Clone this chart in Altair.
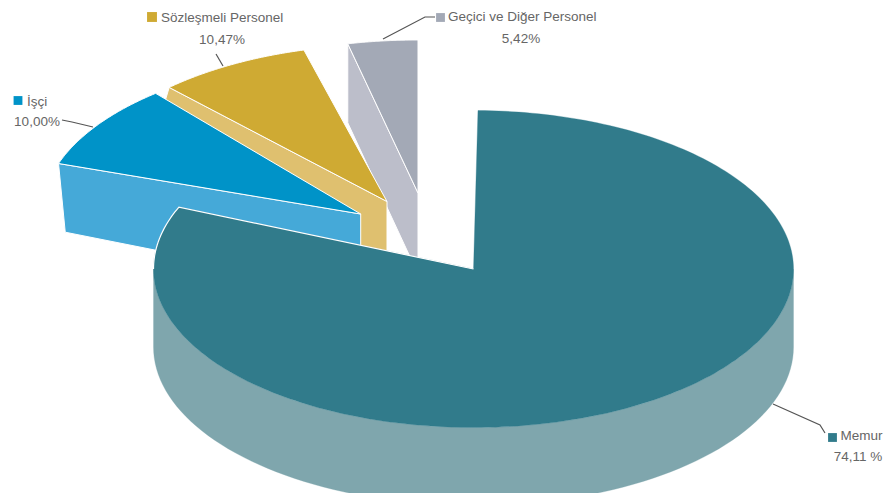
import math
import altair as alt

# ---- data ----
names = ["Memur", "İşçi", "Sözleşmeli Personel", "Geçici ve Diğer Personel"]
shares = ["74,11 %", "10,00%", "10,47%", "5,42%"]
top_colors = ["#317b8b", "#0093c8", "#cfaa33", "#a3a9b6"]
wall_colors = ["#7fa6ad", "#45a9d8", "#dfc06f", "#bcbeca"]

# 3-D slice geometry (apex, radii, start/end ellipse angle, wall drops)
apex = [(473.5, 269), (360.7, 214), (387, 201.5), (418, 193)]
radii = [(320, 158.5), (319, 157.5), (317, 157), (317, 153)]
angles = [(0.8, 293), (288.7, 320), (316.6, 344.8), (347.2, 360)]
outer_drop = [(0, 78), (6.7, 68.7), (-21, 70), (0, 79)]
apex_drop = [78, 77, 76, 81]

legend_pos = [(832.5, 437.5), (18, 100.5), (152, 17), (440.5, 17.5)]
legend_size = [78, 78, 98, 78]
name_pos = [(840.5, 436), (27, 102), (161, 18), (448, 17)]
share_pos = [(858, 457), (37, 122), (222, 40), (521, 39)]
leaders = [
    [(773, 404), (820, 425), (825, 433)],
    [(62, 120), (72, 122), (93, 127)],
    [(216, 54), (223, 66)],
    [(435, 17), (425, 17), (383, 39)],
]

FONT = "Liberation Sans"
FONT_SIZE = 13.5
TEXT = "#666666"
PROJ = dict(type="identity", reflectY=True, scale=1, translate=[0, 0])


def P(x, y):
    return [x - 8, -(y - 8)]


def arc(i, a0, a1, dx=0, dy=0, n=90):
    cx, cy = apex[i]
    rx, ry = radii[i]
    pts = []
    for k in range(n + 1):
        t = math.radians(a0 + (a1 - a0) * k / n)
        pts.append((cx + dx + rx * math.sin(t), cy + dy - ry * math.cos(t)))
    return pts


def poly(points, fill, stroke=None, width=1):
    ring = [P(*p) for p in points]
    ring.append(ring[0])
    feat = {"type": "Feature", "properties": {},
            "geometry": {"type": "Polygon", "coordinates": [ring]}}
    kw = {"fill": fill, "strokeWidth": width}
    kw["stroke"] = stroke if stroke else fill
    if not stroke:
        kw["strokeWidth"] = 0.3
    return alt.Chart(alt.Data(values=[feat])).mark_geoshape(**kw).project(**PROJ)


def line(points, color, width=1):
    feat = {"type": "Feature", "properties": {},
            "geometry": {"type": "LineString", "coordinates": [P(*p) for p in points]}}
    return alt.Chart(alt.Data(values=[feat])).mark_geoshape(
        filled=False, fill="transparent", stroke=color, strokeWidth=width
    ).project(**PROJ)


layers = []

# back slices: wall first, then the top face, painted back to front
for i in [3, 2, 1]:
    a0, a1 = angles[i]
    ax, ay = apex[i]
    start = arc(i, a0, a0, n=1)[0]
    wall = [start, (ax, ay), (ax, ay + apex_drop[i]),
            (start[0] + outer_drop[i][0], start[1] + outer_drop[i][1])]
    layers.append(poly(wall, wall_colors[i], "white", 1))
    layers.append(poly(arc(i, a0, a1) + [(ax, ay)], top_colors[i], "white", 1))

# front slice
ax, ay = apex[0]
dx, dy = outer_drop[0]
wall_pts = arc(0, 90, 270, dx, dy) + arc(0, 270, 90)
layers.append(poly(wall_pts, wall_colors[0]))
a0, a1 = angles[0]
layers.append(poly(arc(0, a0, a1, n=240) + [(ax, ay)], top_colors[0]))
end_edge = [(ax, ay)] + arc(0, a1, 270, n=24)
layers.append(line(end_edge, "white", 1.2))

# leaders
for pts in leaders:
    layers.append(line(pts, "#555555", 1.2))

# legend squares and labels
for i in range(4):
    sq = alt.Chart(alt.Data(values=[{"lon": P(*legend_pos[i])[0], "lat": P(*legend_pos[i])[1]}]))
    layers.append(sq.mark_square(size=legend_size[i], color=top_colors[i], opacity=1).encode(
        longitude="lon:Q", latitude="lat:Q").project(**PROJ))
    nm = alt.Chart(alt.Data(values=[{"lon": P(*name_pos[i])[0], "lat": P(*name_pos[i])[1], "t": names[i]}]))
    layers.append(nm.mark_text(align="left", baseline="middle", font=FONT, fontSize=FONT_SIZE, color=TEXT).encode(
        longitude="lon:Q", latitude="lat:Q", text="t:N").project(**PROJ))
    sh = alt.Chart(alt.Data(values=[{"lon": P(*share_pos[i])[0], "lat": P(*share_pos[i])[1], "t": shares[i]}]))
    layers.append(sh.mark_text(align="center", baseline="middle", font=FONT, fontSize=FONT_SIZE, color=TEXT).encode(
        longitude="lon:Q", latitude="lat:Q", text="t:N").project(**PROJ))

chart = alt.layer(*layers).properties(
    width=875, height=485, padding=0, background="white",
    autosize=alt.AutoSizeParams(type="none"),
).configure_view(stroke=None)

chart.save("out.html", embed_options={"renderer": "svg", "actions": False})
